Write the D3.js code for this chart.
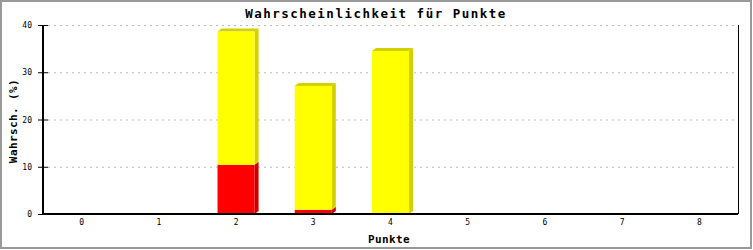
<!DOCTYPE html>
<html>
<head>
<meta charset="utf-8">
<script src="https://cdn.jsdelivr.net/npm/d3@7"></script>
<style>
  body { margin: 0; background: #fff; }
  svg { display: block; }
</style>
</head>
<body>
<svg id="chart" width="753" height="250"></svg>
<script>
// data
var categories = ['0', '1', '2', '3', '4', '5', '6', '7', '8'];
var redValues    = [0, 0, 10.4, 0.9, 0, 0, 0, 0, 0];
var yellowValues = [0, 0, 28.2, 26.2, 34.5, 0, 0, 0, 0];
var yTicks = [0, 10, 20, 30, 40];

var chartTitle = 'Wahrscheinlichkeit für Punkte';
var xTitle = 'Punkte';
var yTitle = 'Wahrsch. (%)';

(function() {
    var width  = 753;
    var height = 250;
    var pLeft = 43, pRight = 738, pTop = 25, pBottom = 214;
    var depthX = 4, depthY = 3;

    var svg = d3.select('#chart');

    // outer frame
    svg.append('rect')
        .attr('x', 1).attr('y', 1)
        .attr('width', width - 3).attr('height', height - 3)
        .attr('fill', '#fff')
        .attr('stroke', '#999')
        .attr('stroke-width', 2);

    var x = d3.scaleBand()
        .domain(categories)
        .range([pLeft, pRight])
        .paddingInner(0.52)
        .paddingOuter(0.26);

    var y = d3.scaleLinear()
        .domain([0, 40])
        .range([pBottom, pTop]);

    // grid
    svg.append('g')
        .selectAll('line')
        .data(yTicks.filter(function(d) { return d > 0; }))
        .enter().append('line')
        .attr('x1', pLeft + 5).attr('x2', pRight)
        .attr('y1', function(d) { return y(d) + 0.5; })
        .attr('y2', function(d) { return y(d) + 0.5; })
        .attr('stroke', '#bbb')
        .attr('stroke-dasharray', '2,4');

    // stacked 3d bars
    var series = [
        { values: redValues,    front: '#ff0000', side: '#cc0000' },
        { values: yellowValues, front: '#ffff00', side: '#d2d000' }
    ];

    var bars = svg.append('g');
    categories.forEach(function(c, i) {
        var base = 0;
        series.forEach(function(s, k) {
            var v = s.values[i];
            if (v <= 0) return;
            var x0 = x(c), x1 = x(c) + x.bandwidth();
            var y0 = y(base), y1 = y(base + v);
            var isTop = series.slice(k + 1).every(function(t) { return t.values[i] <= 0; });

            // side face
            bars.append('polygon')
                .attr('points', [
                    [x1, y0], [x1 + depthX, y0 - depthY],
                    [x1 + depthX, y1 - depthY], [x1, y1]
                ].join(' '))
                .attr('fill', s.side);

            if (isTop) {
                bars.append('polygon')
                    .attr('points', [
                        [x0, y1], [x0 + depthX, y1 - depthY],
                        [x1 + depthX, y1 - depthY], [x1, y1]
                    ].join(' '))
                    .attr('fill', s.side);
            }

            bars.append('rect')
                .attr('x', x0).attr('y', y1)
                .attr('width', x1 - x0).attr('height', y0 - y1)
                .attr('fill', s.front);

            base += v;
        });
    });

    // axes
    var yAxis = svg.append('g')
        .attr('transform', 'translate(' + pLeft + ',0)')
        .call(d3.axisLeft(y).tickValues(yTicks).tickSize(5).tickPadding(6));
    yAxis.select('.domain').remove();
    yAxis.selectAll('.tick line').attr('x1', -5).attr('x2', 5).attr('stroke', '#000');
    yAxis.selectAll('.tick text')
        .attr('font-family', 'DejaVu Sans Mono, monospace')
        .attr('font-size', 8)
        .attr('fill', '#000');

    var xAxis = svg.append('g')
        .attr('transform', 'translate(0,' + pBottom + ')')
        .call(d3.axisBottom(x).tickSize(0).tickPadding(5));
    xAxis.select('.domain').remove();
    xAxis.selectAll('.tick text')
        .attr('font-family', 'DejaVu Sans Mono, monospace')
        .attr('font-size', 8)
        .attr('fill', '#000');

    svg.append('line')
        .attr('x1', pLeft).attr('x2', pLeft)
        .attr('y1', pTop).attr('y2', pBottom + 1)
        .attr('stroke', '#000').attr('stroke-width', 2);
    svg.append('line')
        .attr('x1', pLeft).attr('x2', pRight)
        .attr('y1', pBottom).attr('y2', pBottom)
        .attr('stroke', '#000').attr('stroke-width', 2);
    svg.append('line')
        .attr('x1', pRight + 0.5).attr('x2', pRight + 0.5)
        .attr('y1', pTop).attr('y2', pBottom)
        .attr('stroke', '#000').attr('stroke-width', 1);

    // titles
    svg.append('text')
        .attr('x', 376).attr('y', 18)
        .attr('text-anchor', 'middle')
        .attr('font-family', 'DejaVu Sans Mono, monospace')
        .attr('font-weight', 'bold')
        .attr('font-size', 12.5)
        .attr('letter-spacing', 1.5)
        .text(chartTitle);

    svg.append('text')
        .attr('x', 389).attr('y', 243)
        .attr('text-anchor', 'middle')
        .attr('font-family', 'DejaVu Sans Mono, monospace')
        .attr('font-weight', 'bold')
        .attr('font-size', 11)
        .attr('letter-spacing', 0.4)
        .text(xTitle);

    svg.append('text')
        .attr('transform', 'translate(17,121) rotate(-90)')
        .attr('text-anchor', 'middle')
        .attr('font-family', 'DejaVu Sans Mono, monospace')
        .attr('font-weight', 'bold')
        .attr('font-size', 11)
        .attr('letter-spacing', 0.4)
        .text(yTitle);
})();
</script>
</body>
</html>
